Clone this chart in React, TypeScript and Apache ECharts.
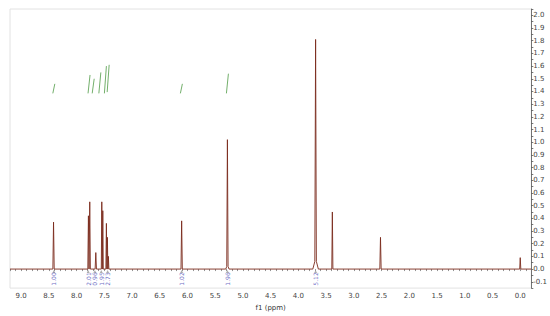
import React, { useEffect, useRef } from "react";
import * as echarts from "echarts";

// Peak list (chemical shift in ppm, intensity)
const peakShifts = [8.415, 7.786, 7.762, 7.653, 7.545, 7.527, 7.462, 7.444, 7.426, 6.105, 5.28, 3.69, 3.388, 2.52, 0.0];
const peakHeights = [0.37, 0.42, 0.53, 0.13, 0.53, 0.46, 0.36, 0.25, 0.1, 0.38, 1.02, 1.81, 0.45, 0.25, 0.09];
const peakHalfWidths = [0.012, 0.011, 0.011, 0.012, 0.009, 0.009, 0.009, 0.009, 0.009, 0.012, 0.012, 0.014, 0.01, 0.012, 0.01];
const footHeights = [0, 0, 0, 0, 0, 0, 0, 0, 0, 0, 0.02, 0.06, 0, 0, 0];
const footHalfWidths = [0, 0, 0, 0, 0, 0, 0, 0, 0, 0, 0.03, 0.05, 0, 0, 0];

// Integral curves (green): centre ppm, start level, end level
const integralCenters = [8.41, 7.775, 7.70, 7.58, 7.48, 7.43, 6.11, 5.28];
const integralBottoms = [1.385, 1.385, 1.385, 1.385, 1.385, 1.395, 1.385, 1.385];
const integralTops = [1.46, 1.53, 1.5, 1.55, 1.6, 1.61, 1.46, 1.54];

// Integration values printed under the baseline
const integralLabelShifts = [8.41, 7.79, 7.67, 7.555, 7.44, 6.105, 5.28, 3.69];
const integralLabelTexts = ["1.00", "2.01", "0.96", "1.95", "2.73", "1.02", "1.96", "5.12"];

// Axis ranges
const xRange = [-0.2, 9.2];
const yRange = [-0.15, 2.05];

function buildSpectrum(): number[][] {
  const pts: number[][] = [[xRange[1], 0]];
  for (let i = 0; i < peakShifts.length; i++) {
    const p = peakShifts[i];
    const h = peakHeights[i];
    const w = peakHalfWidths[i];
    const fh = footHeights[i];
    const fw = footHalfWidths[i];
    if (fh > 0) {
      pts.push([p + fw, 0], [p + w, fh], [p, h], [p - w, fh], [p - fw, 0]);
    } else {
      pts.push([p + w, 0], [p, h], [p - w, 0]);
    }
  }
  pts.push([xRange[0], 0]);
  return pts;
}

export default function App() {
  const ref = useRef<HTMLDivElement>(null);
  useEffect(() => {
    if (!ref.current) return;
    const chart = echarts.init(ref.current, undefined, { renderer: "svg" });
    const font = "DejaVu Sans";
    const integralSeries = integralCenters.map((c, i) => ({
      type: "line",
      data: [
        [c + 0.018, integralBottoms[i]],
        [c - 0.018, integralTops[i]],
      ],
      showSymbol: false,
      silent: true,
      lineStyle: { color: "#4f9a45", width: 0.8 },
      z: 3,
    }));
    chart.setOption({
      animation: false,
      backgroundColor: "#ffffff",
      textStyle: { fontFamily: font },
      grid: {
        left: 10,
        right: 17,
        top: 9,
        bottom: 18,
        show: true,
        borderColor: "#e2e2e2",
        borderWidth: 1,
      },
      xAxis: {
        type: "value",
        inverse: true,
        min: xRange[0],
        max: xRange[1],
        interval: 0.1,
        name: "f1 (ppm)",
        nameLocation: "middle",
        nameGap: 13,
        nameTextStyle: { fontSize: 7, color: "#333", fontFamily: font },
        axisLine: { show: false },
        axisTick: { show: true, length: 2, lineStyle: { color: "#777", width: 0.8 } },
        splitLine: { show: false },
        axisLabel: {
          fontSize: 7,
          color: "#444",
          margin: 4,
          fontFamily: font,
          formatter: (v: number) => {
            const k = Math.round(v * 10);
            return k % 5 === 0 && k >= 0 ? (k / 10).toFixed(1) : "";
          },
        },
      },
      yAxis: {
        type: "value",
        position: "right",
        min: yRange[0],
        max: yRange[1],
        interval: 0.05,
        axisLine: { show: true, onZero: false, lineStyle: { color: "#555", width: 0.8 } },
        axisTick: { show: true, length: 2, lineStyle: { color: "#555", width: 0.8 } },
        splitLine: { show: false },
        axisLabel: {
          fontSize: 7,
          color: "#444",
          margin: 2,
          fontFamily: font,
          formatter: (v: number) => {
            const k = Math.round(v * 20);
            if (k % 2 !== 0) return "";
            return (k / 20).toFixed(1);
          },
        },
      },
      series: [
        {
          type: "line",
          data: buildSpectrum(),
          showSymbol: false,
          silent: true,
          lineStyle: { color: "#7a2a1c", width: 0.9 },
          z: 4,
        },
        ...integralSeries,
        {
          type: "scatter",
          data: integralLabelShifts.map((s) => [s, -0.02]),
          symbol: "triangle",
          symbolSize: 3,
          itemStyle: { color: "#9a9a9a" },
          silent: true,
          z: 2,
        },
        {
          type: "scatter",
          data: integralLabelShifts.map((s, i) => [s, -0.078, integralLabelTexts[i]]),
          symbolSize: 0,
          silent: true,
          label: {
            show: true,
            position: "inside",
            rotate: 90,
            fontSize: 6,
            color: "#4646b4",
            fontFamily: font,
            formatter: (p: any) => p.data[2],
          },
          z: 5,
        },
      ],
    });
    return () => chart.dispose();
  }, []);
  return (
    <div
      ref={ref}
      style={{ position: "fixed", left: 0, top: 0, width: 550, height: 316, background: "#fff" }}
    />
  );
}
